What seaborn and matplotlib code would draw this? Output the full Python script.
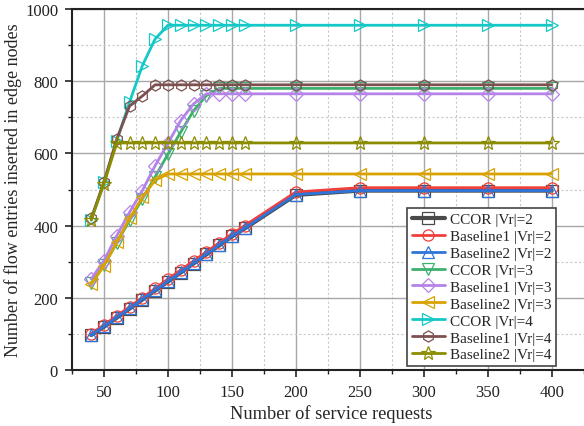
import numpy as np
import pandas as pd
import matplotlib
matplotlib.use("Agg")
import matplotlib.pyplot as plt
import seaborn as sns
from matplotlib.ticker import MultipleLocator

requests = [40, 50, 60, 70, 80, 90, 100, 110, 120, 130, 140, 150, 160, 200, 250, 300, 350, 400]

ccor_2 = [97, 120, 145, 170, 195, 220, 245, 270, 295, 320, 345, 370, 392, 485, 497, 497, 497, 497]
base1_2 = [100, 125, 150, 175, 200, 226, 252, 277, 302, 327, 352, 377, 400, 493, 505, 505, 505, 505]
base2_2 = [97, 121, 146, 171, 196, 221, 246, 271, 296, 321, 346, 371, 393, 486, 497, 497, 497, 497]

ccor_3 = [240, 290, 352, 415, 474, 535, 598, 659, 718, 760, 780, 780, 780, 780, 780, 780, 780, 780]
base1_3 = [252, 303, 372, 437, 497, 566, 628, 691, 737, 765, 765, 765, 765, 765, 765, 765, 765, 765]
base2_3 = [238, 289, 354, 420, 478, 526, 543, 543, 543, 543, 543, 543, 543, 543, 543, 543, 543, 543]

ccor_4 = [415, 520, 635, 742, 843, 917, 955, 955, 955, 955, 955, 955, 955, 955, 955, 955, 955, 955]
base1_4 = [420, 521, 640, 731, 759, 790, 790, 790, 790, 790, 790, 790, 790, 790, 790, 790, 790, 790]
base2_4 = [416, 516, 629, 629, 629, 629, 629, 629, 629, 629, 629, 629, 629, 629, 629, 629, 629, 629]

series = [
    ("CCOR |Vr|=2", ccor_2, "#4a4a4a", "s", 3.0),
    ("Baseline1 |Vr|=2", base1_2, "#f0403c", "o", 2.0),
    ("Baseline2 |Vr|=2", base2_2, "#2f74d8", "^", 2.0),
    ("CCOR |Vr|=3", ccor_3, "#3cb06c", "v", 2.0),
    ("Baseline1 |Vr|=3", base1_3, "#b583e8", "D", 2.0),
    ("Baseline2 |Vr|=3", base2_3, "#d8a200", "<", 2.0),
    ("CCOR |Vr|=4", ccor_4, "#14c8c8", ">", 2.0),
    ("Baseline1 |Vr|=4", base1_4, "#7d5050", "h", 2.0),
    ("Baseline2 |Vr|=4", base2_4, "#8c8c00", "*", 2.0),
]

rows = []
for name, vals, _, _, _ in series:
    for x, y in zip(requests, vals):
        rows.append({"requests": x, "entries": y, "scheme": name})
df = pd.DataFrame(rows)

sns.set_style("ticks")
plt.rcParams["font.family"] = ["Liberation Serif", "DejaVu Serif"]

fig = plt.figure(figsize=(5.84, 4.27), dpi=100)
ax = fig.add_axes([72 / 584, 56 / 427, 518 / 584, 361 / 427])

for name, vals, col, mk, lw in series:
    sub = df[df["scheme"] == name]
    ms = 10 if mk == "*" else (7 if mk == "D" else 8)
    sns.lineplot(data=sub, x="requests", y="entries", ax=ax, color=col, linewidth=lw,
                 marker=mk, markersize=ms, markerfacecolor="none", markeredgecolor=col,
                 markeredgewidth=0.9, label=name, zorder=3)

ax.set_xlim(25, 430)
ax.set_ylim(0, 1000)
ax.xaxis.set_major_locator(MultipleLocator(50))
ax.xaxis.set_minor_locator(MultipleLocator(25))
ax.yaxis.set_major_locator(MultipleLocator(200))
ax.yaxis.set_minor_locator(MultipleLocator(100))
ax.grid(which="major", color="#a8a8a8", linewidth=1.0, linestyle="-")
ax.grid(which="minor", color="#c8c8c8", linewidth=0.8, linestyle=(0, (2, 2)))
ax.set_axisbelow(True)

for s in ["left", "bottom", "top"]:
    ax.spines[s].set_color("#222222")
    ax.spines[s].set_linewidth(1.5)
ax.spines["right"].set_visible(False)

ax.tick_params(which="major", direction="out", length=5, width=1.2, labelsize=12,
               colors="#222222", pad=5)
ax.tick_params(which="minor", direction="out", length=3, width=1.0)
ax.tick_params(top=False, right=False)

ax.set_xlabel("Number of service requests", fontsize=13.2, labelpad=3)
ax.set_ylabel("Number of flow entries inserted in edge nodes", fontsize=13, labelpad=2)

leg = ax.legend(loc="lower left", bbox_to_anchor=(335 / 518, 4 / 361), borderaxespad=0,
                fontsize=11, frameon=True, fancybox=False, edgecolor="#444444",
                framealpha=1, handlelength=2.2, labelspacing=0.21, borderpad=0.3,
                handletextpad=0.3)
leg.get_frame().set_linewidth(1.2)

fig.savefig("out.png", dpi=100)
